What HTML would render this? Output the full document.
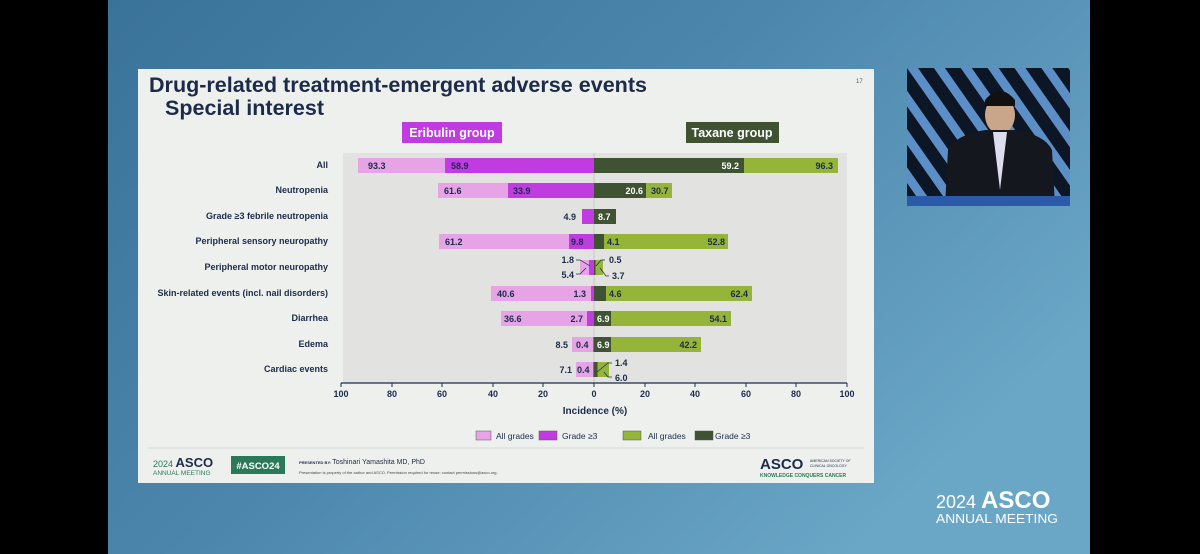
<!DOCTYPE html>
<html><head><meta charset="utf-8"><style>
html,body{margin:0;padding:0;width:1200px;height:554px;overflow:hidden;background:#000;}
svg{display:block;font-family:"Liberation Sans",sans-serif;}
</style></head><body>
<svg width="1200" height="554" viewBox="0 0 1200 554" xmlns="http://www.w3.org/2000/svg">
<defs>
<linearGradient id="bg" x1="0" y1="0" x2="1" y2="0.6">
<stop offset="0" stop-color="#3a7399"/><stop offset="0.5" stop-color="#4c86ad"/><stop offset="1" stop-color="#6aa6c6"/>
</linearGradient>
<pattern id="str" width="22" height="22" patternUnits="userSpaceOnUse" patternTransform="rotate(-35)">
<rect width="22" height="22" fill="#0d1624"/><rect width="9" height="22" fill="#5c8fc8"/>
</pattern>
</defs>
<rect x="108" y="0" width="982" height="554" fill="url(#bg)"/>
<rect x="138" y="69" width="736" height="414" fill="#eef0ee"/>
<text x="149" y="92" font-size="21" font-weight="bold" fill="#1c2b4a" textLength="498" lengthAdjust="spacingAndGlyphs">Drug-related treatment-emergent adverse events</text>
<text x="165" y="115" font-size="21" font-weight="bold" fill="#1c2b4a" textLength="159" lengthAdjust="spacingAndGlyphs">Special interest</text>
<text x="856" y="83" font-size="6" fill="#555">17</text>
<rect x="402" y="122" width="100" height="21" fill="#c03ce0"/>
<text x="452" y="137" font-size="12.5" font-weight="bold" fill="#fff" text-anchor="middle">Eribulin group</text>
<rect x="686" y="122" width="93" height="21" fill="#3f5232"/>
<text x="732" y="137" font-size="12.5" font-weight="bold" fill="#fff" text-anchor="middle">Taxane group</text>
<rect x="343" y="153" width="504" height="230" fill="#e2e3e1"/>
<line x1="594" y1="153" x2="594" y2="383" stroke="#c8c8c8" stroke-width="1"/>
<g font-size="9" font-weight="bold" fill="#1c2b4a" text-anchor="end">
<text x="328" y="168">All</text>
<text x="328" y="193">Neutropenia</text>
<text x="328" y="219">Grade ≥3 febrile neutropenia</text>
<text x="328" y="244">Peripheral sensory neuropathy</text>
<text x="328" y="270">Peripheral motor neuropathy</text>
<text x="328" y="296">Skin-related events (incl. nail disorders)</text>
<text x="328" y="321">Diarrhea</text>
<text x="328" y="347">Edema</text>
<text x="328" y="372">Cardiac events</text>
</g>
<g>
<rect x="358" y="158" width="236" height="15" fill="#e6a3e6"/><rect x="445" y="158" width="149" height="15" fill="#c03ce0"/>
<rect x="594" y="158" width="244" height="15" fill="#95b43a"/><rect x="594" y="158" width="150" height="15" fill="#3f5232"/>
<rect x="438" y="183" width="156" height="15" fill="#e6a3e6"/><rect x="508" y="183" width="86" height="15" fill="#c03ce0"/>
<rect x="594" y="183" width="78" height="15" fill="#95b43a"/><rect x="594" y="183" width="52" height="15" fill="#3f5232"/>
<rect x="582" y="209" width="12" height="15" fill="#c03ce0"/>
<rect x="594" y="209" width="22" height="15" fill="#3f5232"/>
<rect x="439" y="234" width="155" height="15" fill="#e6a3e6"/><rect x="569" y="234" width="25" height="15" fill="#c03ce0"/>
<rect x="594" y="234" width="134" height="15" fill="#95b43a"/><rect x="594" y="234" width="10" height="15" fill="#3f5232"/>
<rect x="580" y="260" width="14" height="15" fill="#e6a3e6"/><rect x="589" y="260" width="5" height="15" fill="#c03ce0"/>
<rect x="594" y="260" width="9" height="15" fill="#95b43a"/><rect x="594" y="260" width="1.5" height="15" fill="#3f5232"/>
<rect x="491" y="286" width="103" height="15" fill="#e6a3e6"/><rect x="591" y="286" width="3" height="15" fill="#c03ce0"/>
<rect x="594" y="286" width="158" height="15" fill="#95b43a"/><rect x="594" y="286" width="12" height="15" fill="#3f5232"/>
<rect x="501" y="311" width="93" height="15" fill="#e6a3e6"/><rect x="587" y="311" width="7" height="15" fill="#c03ce0"/>
<rect x="594" y="311" width="137" height="15" fill="#95b43a"/><rect x="594" y="311" width="17" height="15" fill="#3f5232"/>
<rect x="572" y="337" width="22" height="15" fill="#e6a3e6"/><rect x="593" y="337" width="1" height="15" fill="#c03ce0"/>
<rect x="594" y="337" width="107" height="15" fill="#95b43a"/><rect x="594" y="337" width="17" height="15" fill="#3f5232"/>
<rect x="576" y="362" width="18" height="15" fill="#e6a3e6"/><rect x="593" y="362" width="1" height="15" fill="#c03ce0"/>
<rect x="594" y="362" width="15" height="15" fill="#95b43a"/><rect x="594" y="362" width="3.5" height="15" fill="#3f5232"/>
</g>
<g font-size="9" font-weight="bold" fill="#1c2b4a">
<text x="368" y="169">93.3</text><text x="451" y="169">58.9</text>
<text x="739" y="169" text-anchor="end" fill="#fff">59.2</text><text x="833" y="169" text-anchor="end">96.3</text>
<text x="444" y="194">61.6</text><text x="513" y="194">33.9</text>
<text x="643" y="194" text-anchor="end" fill="#fff">20.6</text><text x="651" y="194">30.7</text>
<text x="576" y="220" text-anchor="end">4.9</text><text x="598" y="220" fill="#fff">8.7</text>
<text x="445" y="245">61.2</text><text x="571" y="245">9.8</text>
<text x="607" y="245">4.1</text><text x="725" y="245" text-anchor="end">52.8</text>
<text x="574" y="263" text-anchor="end">1.8</text><text x="609" y="263">0.5</text>
<text x="574" y="278" text-anchor="end">5.4</text><text x="612" y="279">3.7</text>
<text x="497" y="297">40.6</text><text x="586" y="297" text-anchor="end">1.3</text>
<text x="609" y="297">4.6</text><text x="748" y="297" text-anchor="end">62.4</text>
<text x="504" y="322">36.6</text><text x="583" y="322" text-anchor="end">2.7</text>
<text x="597" y="322" fill="#fff">6.9</text><text x="727" y="322" text-anchor="end">54.1</text>
<text x="568" y="348" text-anchor="end">8.5</text><text x="576" y="348">0.4</text>
<text x="597" y="348" fill="#fff">6.9</text><text x="697" y="348" text-anchor="end">42.2</text>
<text x="572" y="373" text-anchor="end">7.1</text><text x="577" y="373">0.4</text>
<text x="615" y="366">1.4</text><text x="615" y="381">6.0</text>
</g>
<g stroke="#1c2b4a" stroke-width="0.7" fill="none">
<polyline points="576,260 580,260 590,266"/><polyline points="605,260 601,260 596,266"/>
<polyline points="576,274 580,274 586,268"/><polyline points="609,276 606,276 600,268"/>
<polyline points="612,363 608,363 597,372"/><polyline points="612,377 608,377 604,372"/>
</g>
<line x1="341" y1="383" x2="847" y2="383" stroke="#1c2b4a" stroke-width="1.2"/>
<g stroke="#1c2b4a" stroke-width="1">
<line x1="341" y1="383" x2="341" y2="387"/><line x1="392" y1="383" x2="392" y2="387"/><line x1="442" y1="383" x2="442" y2="387"/>
<line x1="493" y1="383" x2="493" y2="387"/><line x1="543" y1="383" x2="543" y2="387"/><line x1="594" y1="383" x2="594" y2="387"/>
<line x1="645" y1="383" x2="645" y2="387"/><line x1="695" y1="383" x2="695" y2="387"/><line x1="746" y1="383" x2="746" y2="387"/>
<line x1="796" y1="383" x2="796" y2="387"/><line x1="847" y1="383" x2="847" y2="387"/>
</g>
<g font-size="9" font-weight="bold" fill="#1c2b4a" text-anchor="middle">
<text x="341" y="397">100</text><text x="392" y="397">80</text><text x="442" y="397">60</text><text x="493" y="397">40</text><text x="543" y="397">20</text>
<text x="594" y="397">0</text><text x="645" y="397">20</text><text x="695" y="397">40</text><text x="746" y="397">60</text><text x="796" y="397">80</text><text x="847" y="397">100</text>
<text x="595" y="414" font-size="10">Incidence (%)</text>
</g>
<g font-size="8.5" fill="#1c2b4a">
<rect x="476" y="431" width="15" height="9" fill="#e6a3e6" stroke="#555" stroke-width="0.5"/><text x="496" y="439">All grades</text>
<rect x="539" y="431" width="18" height="9" fill="#c03ce0" stroke="#555" stroke-width="0.5"/><text x="562" y="439">Grade ≥3</text>
<rect x="623" y="431" width="18" height="9" fill="#95b43a" stroke="#555" stroke-width="0.5"/><text x="648" y="439">All grades</text>
<rect x="695" y="431" width="18" height="9" fill="#3f5232" stroke="#555" stroke-width="0.5"/><text x="715" y="439">Grade ≥3</text>
</g>
<line x1="148" y1="448" x2="864" y2="448" stroke="#cfd3d0" stroke-width="0.8"/>
<text x="153" y="467" font-size="9" fill="#2a7a5a">2024 <tspan font-size="13" font-weight="bold" fill="#1c2b4a">ASCO</tspan></text>
<text x="153" y="475" font-size="6.5" fill="#2a7a5a">ANNUAL MEETING</text>
<rect x="231" y="456" width="54" height="18" fill="#2a7a5a"/>
<text x="258" y="469" font-size="9.5" font-weight="bold" fill="#fff" text-anchor="middle">#ASCO24</text>
<text x="299" y="464" font-size="4" font-weight="bold" fill="#1c2b4a">PRESENTED BY: <tspan font-size="7" font-weight="normal">Toshinari Yamashita MD, PhD</tspan></text>
<text x="299" y="474" font-size="4" fill="#444">Presentation is property of the author and ASCO. Permission required for reuse; contact permissions@asco.org.</text>
<text x="760" y="469" font-size="15" font-weight="bold" fill="#1c2b4a">ASCO</text>
<text x="810" y="462" font-size="3.5" fill="#1c2b4a">AMERICAN SOCIETY OF</text>
<text x="810" y="467" font-size="3.5" fill="#1c2b4a">CLINICAL ONCOLOGY</text>
<text x="760" y="477" font-size="5" font-weight="bold" fill="#2a7a5a">KNOWLEDGE CONQUERS CANCER</text>
<rect x="907" y="68" width="163" height="138" fill="url(#str)"/>
<ellipse cx="1000" cy="115" rx="15" ry="19" fill="#c9a58a"/>
<path d="M985 100 Q1000 82 1015 100 L1015 106 L985 106Z" fill="#111"/>
<path d="M945 206 L948 150 Q955 135 985 130 L1015 130 Q1045 135 1052 150 L1055 206Z" fill="#14171d"/>
<path d="M993 132 L1000 190 L1007 132Z" fill="#dde"/>
<rect x="907" y="196" width="163" height="10" fill="#2a5aa8"/>
<text x="936" y="508" font-size="18" fill="#fff">2024 <tspan font-size="24" font-weight="bold">ASCO</tspan></text>
<text x="936" y="523" font-size="12.5" fill="#fff" textLength="122" lengthAdjust="spacingAndGlyphs">ANNUAL MEETING</text>
</svg>
</body></html>
